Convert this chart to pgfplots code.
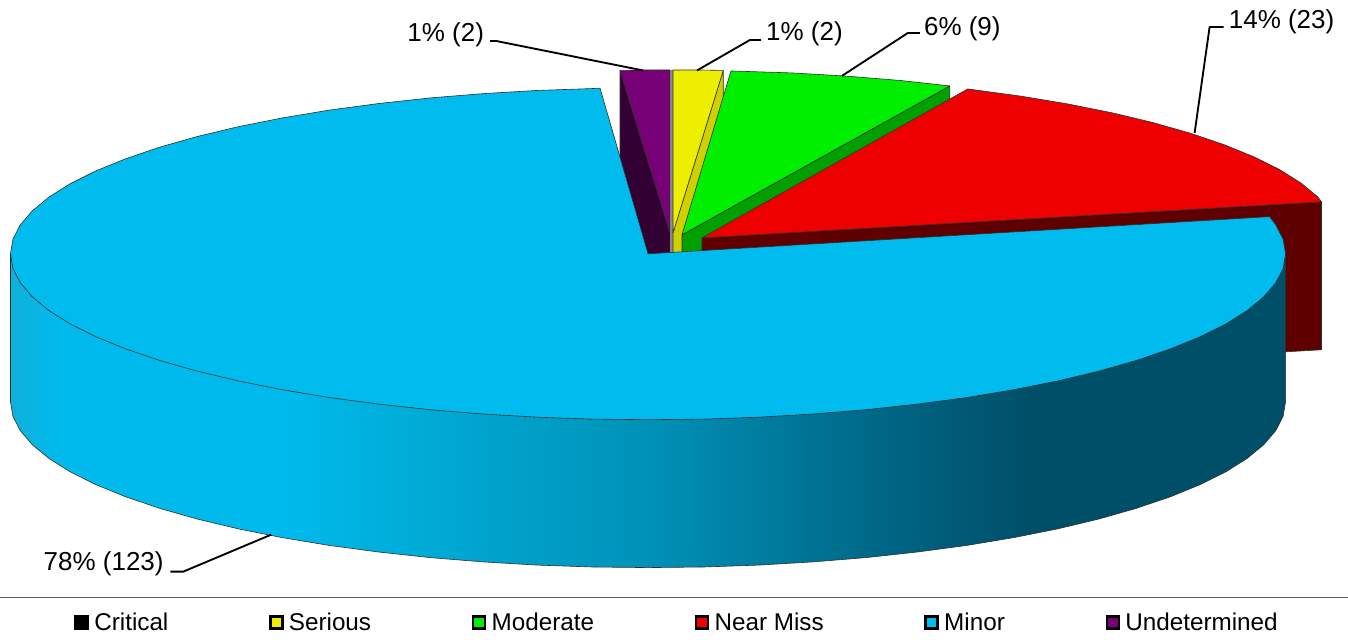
\documentclass[border=0pt]{standalone}
\usepackage{fontspec}
\setmainfont{Liberation Sans}
\usepackage{pgfplots}
\pgfplotsset{compat=1.18}

\definecolor{ctop}{HTML}{00BBEE}
\definecolor{redtop}{HTML}{EE0000}
\definecolor{redside}{HTML}{5F0000}
\definecolor{greentop}{HTML}{00EE00}
\definecolor{greenside}{HTML}{00A000}
\definecolor{yellowtop}{HTML}{EEEE00}
\definecolor{yellowside}{HTML}{D0D000}
\definecolor{purpletop}{HTML}{770077}
\definecolor{purpleside}{HTML}{330033}
\definecolor{edge}{HTML}{303030}

\pgfdeclarehorizontalshading{pieside}{100bp}{
  rgb(0bp)=(0.06,0.69,0.86);
  rgb(25bp)=(0.06,0.69,0.86);
  rgb(27bp)=(0,0.73,0.93);
  rgb(35.6bp)=(0,0.73,0.93);
  rgb(40.3bp)=(0,0.68,0.85);
  rgb(50bp)=(0,0.57,0.72);
  rgb(59.9bp)=(0,0.39,0.51);
  rgb(65bp)=(0,0.31,0.41);
  rgb(100bp)=(0,0.31,0.41)}

\tikzset{lbl/.style={font=\fontsize{19.5}{23}\selectfont,anchor=west,inner sep=0pt}}

\begin{document}
\begin{tikzpicture}
\begin{axis}[
scale only axis,
width=1011pt,
height=480pt,
xmin=0,xmax=1348,
ymin=0,ymax=640,
y dir=reverse,
hide axis,
clip=false,
slice/.style={forget plot,line join=round,draw=edge,line width=0.45pt},
leader/.style={forget plot,black,line width=1.4pt,line join=round},
legend columns=6,
legend cell align=left,
legend image code/.code={
  \draw[#1,draw=black,line width=1.9pt] (0pt,-4.5pt) rectangle (9pt,4.5pt);
  \path (11.5pt,0pt);
},
legend style={
  at={(axis cs:74,623)},anchor=west,draw=none,fill=none,
  inner sep=0pt,outer sep=0pt,
  font=\fontsize{18.2}{22}\selectfont,
  nodes={inner sep=2.25pt},
  /tikz/every even column/.append style={column sep=73.3pt},
},
]
\addlegendimage{fill=black}
\addlegendentry{Critical}
\addlegendimage{fill=yellowtop}
\addlegendentry{Serious}
\addlegendimage{fill=greentop}
\addlegendentry{Moderate}
\addlegendimage{fill=redtop}
\addlegendentry{Near Miss}
\addlegendimage{fill=ctop}
\addlegendentry{Minor}
\addlegendimage{fill=purpletop}
\addlegendentry{Undetermined}

% keeps the page at the full picture size
\addplot[forget plot,draw=none] coordinates {(0,0)(1348,640)};

% undetermined
\addplot[slice,fill=purpleside] coordinates {(620,70.5)(670,233)(670,381)(620,218)} --cycle;
\addplot[slice,fill=purpletop] coordinates {(620,70.5)(645,70)(670,70)(670,233)} --cycle;
% critical (zero width slice)
\addplot[forget plot,draw=gray,fill=gray!90,line width=0.4pt] coordinates {(670,70)(673,70)(673,253)(670,253)} --cycle;
% serious
\addplot[slice,fill=yellowside] coordinates {(673,233)(723.3,70.5)(723.3,218)(673,381)} --cycle;
\addplot[slice,fill=yellowtop] coordinates {(673,233)(673,70)(698,70)(723.3,70.5)} --cycle;
% moderate
\addplot[slice,fill=greenside] coordinates {(682,235)(950,86)(950,234)(682,383)} --cycle;
\addplot[slice,fill=greentop] coordinates {(682,235)(731,71)(792.8,73)(847.1,76.2)(900.2,80.5)(950,86)} --cycle;
% near miss
\addplot[slice,fill=redside] coordinates {(702,238)(1322,202)(1322,350)(702,386)} --cycle;
\addplot[slice,fill=redtop] coordinates {(702,238)(968,89)(1021,96.2)(1068,104)(1112.1,112.8)(1153.1,122.6)(1190.7,133.3)(1224.6,144.8)(1254.5,157)(1280.2,169.8)(1301.5,183.2)(1318.2,197)(1322,202)} --cycle;
% minor, side wall then top
\addplot[slice,shade,shading=pieside] coordinates {(10,254)(10,402)(12.4,416.5)(19.7,430.8)(31.8,445)(48.5,458.8)(69.8,472.2)(95.5,485)(125.4,497.2)(159.3,508.7)(196.9,519.4)(237.9,529.2)(282,538)(329,545.8)(378.4,552.4)(429.8,558)(482.9,562.3)(537.2,565.5)(592.4,567.4)(648,568)(703.6,567.4)(758.8,565.5)(813.1,562.3)(866.2,558)(917.6,552.4)(967,545.8)(1014,538)(1058.1,529.2)(1099.1,519.4)(1136.7,508.7)(1170.6,497.2)(1200.5,485)(1226.2,472.2)(1247.5,458.8)(1264.2,445)(1276.3,430.8)(1283.6,416.5)(1286,402)(1286,254)} --cycle;
\addplot[slice,fill=ctop] coordinates {(648,254)(600,88.3)(592.4,88.6)(537.2,90.5)(482.9,93.7)(429.8,98)(378.4,103.6)(329,110.2)(282,118)(237.9,126.8)(196.9,136.6)(159.3,147.3)(125.4,158.8)(95.5,171)(69.8,183.8)(48.5,197.2)(31.8,211)(19.7,225.2)(12.4,239.5)(10,254)(12.4,268.5)(19.7,282.8)(31.8,297)(48.5,310.8)(69.8,324.2)(95.5,337)(125.4,349.2)(159.3,360.7)(196.9,371.4)(237.9,381.2)(282,390)(329,397.8)(378.4,404.4)(429.8,410)(482.9,414.3)(537.2,417.5)(592.4,419.4)(648,420)(703.6,419.4)(758.8,417.5)(813.1,414.3)(866.2,410)(917.6,404.4)(967,397.8)(1014,390)(1058.1,381.2)(1099.1,371.4)(1136.7,360.7)(1170.6,349.2)(1200.5,337)(1226.2,324.2)(1247.5,310.8)(1264.2,297)(1276.3,282.8)(1283.6,268.5)(1286,254)(1283.6,239.5)(1276.3,225.2)(1270,216.8)} --cycle;

% leaders
\addplot[leader] coordinates {(490,41)(496,41)(643,70.5)};
\addplot[leader] coordinates {(697,70.5)(750,40)(761,40)};
\addplot[leader] coordinates {(842,76)(908,33)(920,33)};
\addplot[leader] coordinates {(1195,133)(1210,27)(1224,27)};
\addplot[leader] coordinates {(170,572)(183,572)(271,535)};
% rule above legend
\addplot[forget plot,color=black!65,line width=0.75pt] coordinates {(0,598)(1348,598)};

\node[lbl] at (axis cs:407,35) {1\% (2)};
\node[lbl] at (axis cs:766,34) {1\% (2)};
\node[lbl] at (axis cs:924,29) {6\% (9)};
\node[lbl] at (axis cs:1229,22) {14\% (23)};
\node[lbl] at (axis cs:43,564) {78\% (123)};
\end{axis}
\end{tikzpicture}
\end{document}
